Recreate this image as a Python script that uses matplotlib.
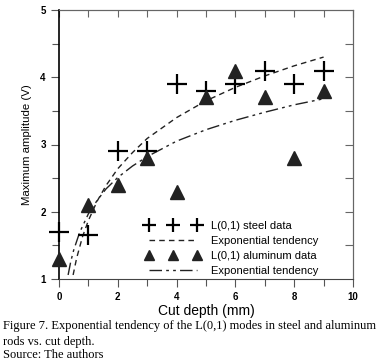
import matplotlib
matplotlib.use("Agg")
import matplotlib.pyplot as plt

# data
depth = [0, 1, 2, 3, 4, 5, 6, 7, 8, 9]
steel = [1.7, 1.65, 2.9, 2.9, 3.9, 3.8, 3.9, 4.1, 3.9, 4.1]
aluminum = [1.3, 2.1, 2.4, 2.8, 2.3, 3.7, 4.1, 3.7, 2.8, 3.8]

# fitted tendency curves
steel_fit_x = [0.48, 0.6, 0.8, 1.0, 1.3, 1.6, 2.0, 2.5, 3, 4, 5, 6, 7, 8, 9]
steel_fit_y = [1.06, 1.31, 1.63, 1.87, 2.16, 2.39, 2.64, 2.88, 3.09, 3.40, 3.65, 3.85, 4.02, 4.17, 4.30]
al_fit_x = [0.31, 0.4, 0.5, 0.7, 1.0, 1.3, 1.6, 2.0, 2.5, 3, 4, 5, 6, 7, 8, 9]
al_fit_y = [1.06, 1.26, 1.43, 1.69, 1.97, 2.17, 2.34, 2.51, 2.68, 2.82, 3.05, 3.22, 3.36, 3.48, 3.59, 3.68]

caption_lines = ["Figure 7. Exponential tendency of the L(0,1) modes in steel and aluminum",
                 "rods vs. cut depth.",
                 "Source: The authors"]

plt.rcParams['font.family'] = ['Liberation Sans', 'DejaVu Sans']

fig = plt.figure(figsize=(3.82, 3.63), dpi=100)
ax = fig.add_axes([59 / 382, 1 - 279 / 363, 294 / 382, 269 / 363])

ax.plot(depth, steel, ls='none', marker='+', ms=15, mew=1.6, color='black',
        clip_on=False, zorder=4, label='L(0,1) steel data')
ax.plot(steel_fit_x, steel_fit_y, ls=(0, (4, 3)), lw=1.0, color='#222222',
        label='Exponential tendency')
ax.plot(depth, aluminum, ls='none', marker='^', ms=10, color='#222222',
        clip_on=False, zorder=4, label='L(0,1) aluminum data')
ax.plot(al_fit_x, al_fit_y, ls=(0, (9, 3, 2, 3, 2, 3)), lw=1.0, color='#222222',
        label='Exponential tendency')

ax.set_xlim(0, 10)
ax.set_ylim(1, 5)
ax.set_xticks([0, 2, 4, 6, 8, 10])
ax.set_xticks(range(11), minor=True)
ax.set_yticks([1, 2, 3, 4, 5])
ax.set_yticks([1.5, 2.5, 3.5, 4.5], minor=True)
ax.tick_params(which='both', direction='out', labelsize=7, width=0.8, color='#555555')
ax.tick_params(which='major', length=6)
ax.tick_params(which='minor', length=5)
for lab in ax.get_xticklabels() + ax.get_yticklabels():
    lab.set_fontweight('bold')

# inward ticks on top and right
top = ax.secondary_xaxis('top')
top.set_xticks(range(11))
top.tick_params(direction='in', length=5, color='#666666')
top.set_xticklabels([])
right = ax.secondary_yaxis('right')
right.set_yticks([1.5, 2, 2.5, 3, 3.5, 4, 4.5])
right.tick_params(direction='in', length=6, color='#666666')
right.set_yticklabels([])
for s in [top.spines['top'], right.spines['right']]:
    s.set_color('#666666')
ax.spines['top'].set_color('#666666')
ax.spines['right'].set_color('#666666')
ax.spines['bottom'].set_color('#444444')
ax.spines['left'].set_color('black')
ax.spines['left'].set_linewidth(1.2)

ax.set_xlabel('Cut depth (mm)', fontsize=10, labelpad=1)
ax.set_ylabel('Maximum amplitude (V)', fontsize=8.2, labelpad=6)

leg = ax.legend(loc='upper left', bbox_to_anchor=(0.295, 0.217), frameon=False,
                fontsize=8, numpoints=3, markerscale=0.65, handlelength=4.9,
                handletextpad=1.0, labelspacing=0.45, borderpad=0, borderaxespad=0)

for line, base in zip(caption_lines, [329, 345, 358]):
    fig.text(3 / 382, 1 - base / 363, line, fontsize=9, family='Liberation Serif',
             va='baseline', ha='left')

fig.savefig('out.png', dpi=100)
